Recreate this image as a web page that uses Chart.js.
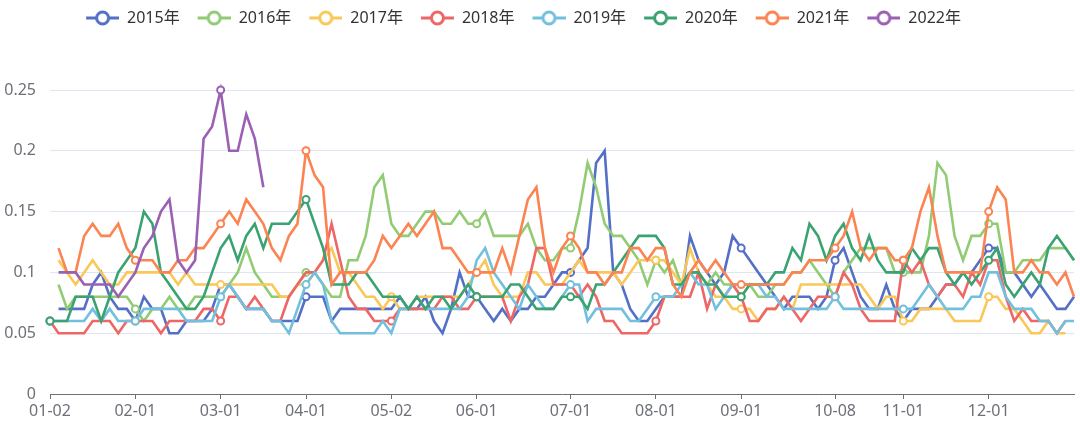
<!DOCTYPE html>
<html>
<head>
<meta charset="utf-8">
<script src="https://cdn.jsdelivr.net/npm/chart.js@4.4.1/dist/chart.umd.min.js"></script>
<style>
  html, body { margin: 0; padding: 0; background: #fff; }
  #wrap { width: 1080px; height: 434px; position: relative; }
</style>
</head>
<body>
<div id="wrap"><canvas id="chart"></canvas></div>
<script>
// x categories: roughly every second trading day
const dates = [
  '01-02','01-06','01-08','01-10','01-14','01-16','01-20','01-22','01-24','01-28',
  '02-01','02-03','02-07','02-09','02-13','02-15','02-19','02-21','02-23','02-27',
  '03-01','03-05','03-07','03-11','03-13','03-15','03-19','03-21','03-25','03-27',
  '04-01','04-03','04-08','04-10','04-14','04-16','04-18','04-22','04-24','04-28',
  '05-02','05-06','05-08','05-12','05-14','05-16','05-20','05-22','05-26','05-28',
  '06-01','06-03','06-05','06-09','06-11','06-15','06-17','06-19','06-23','06-25','06-29',
  '07-01','07-03','07-07','07-09','07-13','07-15','07-17','07-21','07-23','07-27',
  '08-01','08-03','08-07','08-09','08-13','08-15','08-19','08-21','08-25','08-27',
  '09-01','09-03','09-05','09-09','09-11','09-15','09-17','09-19','09-23','09-25','09-29',
  '10-08','10-10','10-14','10-16','10-18','10-22','10-24','10-28',
  '11-01','11-05','11-07','11-11','11-13','11-15','11-19','11-21','11-25','11-27',
  '12-01','12-03','12-05','12-09','12-11','12-15','12-17','12-19','12-23','12-25','12-29'
];
const tickLabels = ['01-02','02-01','03-01','04-01','05-02','06-01','07-01','08-01','09-01','10-08','11-01','12-01'];
const yTicks = [0, 0.05, 0.1, 0.15, 0.2, 0.25];

const years = ['2015年','2016年','2017年','2018年','2019年','2020年','2021年','2022年'];
const colors = ['#5470c6','#91cc75','#fac858','#ee6666','#73c0de','#3ba272','#fc8452','#9a60b4'];

const v2015 = [
  null,0.07,0.07,0.07,0.07,0.09,0.10,0.08,0.07,0.07,0.06,0.08,0.07,0.07,0.05,
  0.05,0.06,0.06,0.06,0.07,0.09,0.09,0.08,0.07,0.07,0.07,0.06,0.06,0.06,0.06,
  0.08,0.08,0.08,0.06,0.07,0.07,0.07,0.07,0.07,0.07,0.07,0.08,0.07,0.07,0.08,
  0.06,0.05,0.07,0.10,0.08,0.08,0.07,0.06,0.07,0.06,0.07,0.07,0.08,0.08,0.09,
  0.10,0.10,0.11,0.12,0.19,0.20,0.10,0.09,0.07,0.06,0.06,0.07,0.08,0.08,0.08,
  0.13,0.11,0.10,0.09,0.10,0.13,0.12,0.11,0.10,0.09,0.08,0.07,0.08,0.08,0.08,
  0.07,0.08,0.11,0.12,0.10,0.08,0.07,0.07,0.09,0.07,0.06,0.07,0.07,0.07,0.08,
  0.09,0.09,0.10,0.10,0.11,0.12,0.12,0.10,0.10,0.09,0.08,0.09,0.08,0.07,0.07,0.08
];
const v2016 = [
  null,0.09,0.07,0.08,0.08,0.08,0.08,0.08,0.08,0.08,0.07,0.06,0.07,0.07,0.08,
  0.07,0.07,0.08,0.08,0.08,0.08,0.09,0.10,0.12,0.10,0.09,0.08,0.08,0.08,0.09,
  0.10,0.10,0.09,0.08,0.08,0.11,0.11,0.13,0.17,0.18,0.14,0.13,0.13,0.14,0.15,
  0.15,0.14,0.14,0.15,0.14,0.14,0.15,0.13,0.13,0.13,0.13,0.14,0.12,0.11,0.11,
  0.12,0.12,0.15,0.19,0.17,0.14,0.13,0.13,0.12,0.11,0.09,0.11,0.10,0.11,0.09,
  0.10,0.10,0.09,0.10,0.09,0.09,0.08,0.09,0.08,0.08,0.09,0.09,0.10,0.10,0.11,
  0.10,0.09,0.08,0.10,0.11,0.12,0.12,0.12,0.12,0.10,0.10,0.10,0.10,0.13,0.19,
  0.18,0.13,0.11,0.13,0.13,0.14,0.14,0.10,0.10,0.11,0.11,0.11,0.12,0.12,0.12,0.11
];
const v2017 = [
  null,0.11,0.10,0.09,0.10,0.11,0.10,0.09,0.09,0.10,0.10,0.10,0.10,0.10,0.10,
  0.09,0.10,0.09,0.09,0.09,0.09,0.09,0.09,0.09,0.09,0.09,0.09,0.08,0.08,0.09,
  0.09,0.10,0.11,0.12,0.10,0.10,0.09,0.08,0.08,0.07,0.08,0.07,0.07,0.08,0.08,
  0.08,0.08,0.08,0.08,0.09,0.10,0.11,0.09,0.08,0.08,0.08,0.10,0.10,0.09,0.09,
  0.09,0.10,0.11,0.10,0.10,0.10,0.10,0.09,0.10,0.11,0.11,0.11,0.11,0.10,0.09,
  0.12,0.10,0.09,0.08,0.08,0.07,0.07,0.07,0.06,0.07,0.07,0.08,0.07,0.09,0.09,
  0.09,0.09,0.09,0.09,0.09,0.09,0.08,0.07,0.08,0.08,0.06,0.06,0.07,0.07,0.07,
  0.07,0.06,0.06,0.06,0.06,0.08,0.08,0.07,0.07,0.06,0.05,0.05,0.06,0.05,0.05,null
];
const v2018 = [
  0.06,0.05,0.05,0.05,0.05,0.06,0.06,0.06,0.05,0.06,0.06,0.06,0.06,0.05,0.06,
  0.06,0.06,0.06,0.07,0.07,0.06,0.08,0.08,0.07,0.08,0.07,0.06,0.06,0.08,0.09,
  0.10,0.10,0.11,0.14,0.11,0.08,0.07,0.07,0.06,0.06,0.06,0.07,0.07,0.07,0.07,
  0.07,0.08,0.08,0.07,0.07,0.08,0.08,0.08,0.08,0.06,0.08,0.09,0.12,0.12,0.09,
  0.09,0.09,0.08,0.09,0.08,0.06,0.06,0.05,0.05,0.05,0.05,0.06,0.08,0.08,0.08,
  0.08,0.10,0.07,0.09,0.08,0.09,0.08,0.06,0.06,0.07,0.07,0.08,0.07,0.06,0.07,
  0.08,0.08,0.08,0.10,0.09,0.07,0.06,0.06,0.06,0.06,0.11,0.10,0.11,0.09,0.08,
  0.09,0.09,0.08,0.10,0.09,0.11,0.11,0.08,0.06,0.07,0.06,0.06,0.06,0.05,0.06,null
];
const v2019 = [
  0.06,0.06,0.06,0.06,0.06,0.07,0.06,0.07,0.06,0.06,0.06,0.07,0.07,0.07,0.07,
  0.07,0.06,0.06,0.06,0.06,0.08,0.09,0.08,0.07,0.07,0.07,0.06,0.06,0.05,0.07,
  0.09,0.10,0.09,0.06,0.05,0.05,0.05,0.05,0.05,0.06,0.05,0.07,0.07,0.08,0.07,
  0.07,0.07,0.07,0.07,0.08,0.11,0.12,0.10,0.09,0.08,0.07,0.09,0.08,0.07,0.07,
  0.08,0.09,0.09,0.06,0.07,0.07,0.07,0.07,0.06,0.06,0.07,0.08,0.08,0.08,0.09,
  0.10,0.09,0.09,0.07,0.08,0.09,0.09,0.09,0.09,0.08,0.08,0.07,0.07,0.07,0.07,
  0.07,0.07,0.08,0.07,0.07,0.07,0.07,0.07,0.07,0.07,0.07,0.07,0.08,0.09,0.08,
  0.07,0.07,0.07,0.08,0.08,0.10,0.10,0.08,0.07,0.07,0.07,0.06,0.06,0.05,0.06,0.06
];
const v2020 = [
  0.06,0.06,0.06,0.08,0.08,0.08,0.06,0.08,0.10,0.11,0.12,0.15,0.14,0.10,0.09,
  0.08,0.07,0.07,0.08,0.10,0.12,0.13,0.11,0.13,0.14,0.12,0.14,0.14,0.14,0.15,
  0.16,0.14,0.12,0.09,0.09,0.09,0.10,0.10,0.09,0.08,0.08,0.08,0.07,0.08,0.07,
  0.08,0.08,0.07,0.08,0.09,0.08,0.08,0.08,0.08,0.09,0.09,0.08,0.07,0.07,0.07,
  0.08,0.08,0.08,0.07,0.09,0.09,0.10,0.11,0.12,0.13,0.13,0.13,0.12,0.09,0.09,
  0.10,0.10,0.09,0.09,0.08,0.08,0.08,0.09,0.09,0.09,0.10,0.10,0.12,0.11,0.14,
  0.13,0.11,0.13,0.14,0.12,0.11,0.13,0.11,0.10,0.10,0.10,0.12,0.11,0.12,0.12,
  0.10,0.09,0.10,0.09,0.10,0.11,0.12,0.09,0.08,0.09,0.10,0.09,0.12,0.13,0.12,0.11
];
const v2021 = [
  null,0.12,0.10,0.10,0.13,0.14,0.13,0.13,0.14,0.12,0.11,0.11,0.11,0.10,0.10,
  0.11,0.11,0.12,0.12,0.13,0.14,0.15,0.14,0.16,0.15,0.14,0.12,0.11,0.13,0.14,
  0.20,0.18,0.17,0.09,0.10,0.10,0.10,0.10,0.11,0.13,0.12,0.13,0.14,0.13,0.14,
  0.15,0.12,0.12,0.11,0.10,0.10,0.10,0.10,0.12,0.10,0.13,0.16,0.17,0.12,0.10,
  0.12,0.13,0.12,0.10,0.10,0.09,0.10,0.10,0.12,0.12,0.11,0.12,0.12,0.09,0.08,
  0.10,0.11,0.10,0.11,0.10,0.09,0.09,0.09,0.09,0.09,0.09,0.09,0.10,0.10,0.11,
  0.11,0.11,0.12,0.13,0.15,0.12,0.11,0.12,0.12,0.11,0.11,0.12,0.15,0.17,0.13,
  0.10,0.10,0.10,0.10,0.10,0.15,0.17,0.16,0.10,0.10,0.11,0.10,0.10,0.09,0.10,0.08
];
const v2022 = [
  null,0.10,0.10,0.10,0.09,0.09,0.09,0.09,0.08,0.09,0.10,0.12,0.13,0.15,0.16,
  0.11,0.10,0.11,0.21,0.22,0.25,0.20,0.20,0.23,0.21,0.17
];

// labelled dates that were trading days in each year (those get a marker)
const marks2015 = ['04-01','06-01','07-01','09-01','10-08','12-01'];
const marks2016 = ['02-01','03-01','04-01','06-01','07-01','08-01','09-01','11-01','12-01'];
const marks2017 = ['03-01','05-02','06-01','08-01','09-01','11-01','12-01'];
const marks2018 = ['01-02','02-01','03-01','05-02','06-01','08-01','10-08','11-01'];
const marks2019 = ['01-02','02-01','03-01','04-01','07-01','08-01','10-08','11-01'];
const marks2020 = ['01-02','04-01','06-01','07-01','09-01','12-01'];
const marks2021 = ['02-01','03-01','04-01','06-01','07-01','09-01','10-08','11-01','12-01'];
const marks2022 = ['03-01'];

const series = [v2015, v2016, v2017, v2018, v2019, v2020, v2021, v2022];
const marks = [marks2015, marks2016, marks2017, marks2018, marks2019, marks2020, marks2021, marks2022];
const tickIdx = tickLabels.map(l => dates.indexOf(l));

Chart.defaults.font.family = "'Noto Sans', 'Noto Sans CJK SC', sans-serif";

// legend icon: short line with a hollow circle on it
function makeIcon(color) {
  const c = document.createElement('canvas');
  c.width = 41;
  c.height = 18;
  const g = c.getContext('2d');
  g.strokeStyle = color;
  g.lineWidth = 3;
  g.beginPath();
  g.moveTo(8, 9);
  g.lineTo(41, 9);
  g.stroke();
  g.beginPath();
  g.arc(24.5, 9, 6, 0, Math.PI * 2);
  g.fillStyle = '#fff';
  g.fill();
  g.stroke();
  return c;
}
const icons = colors.map(makeIcon);

// push the plot down below the legend, and nudge the legend a bit left
const legendGap = {
  id: 'legendGap',
  beforeInit(chart) {
    const legend = chart.legend;
    const fit = legend.fit;
    legend.fit = function () {
      fit.call(this);
      this.height += 54;
    };
    const draw = legend.draw;
    legend.draw = function () {
      this.ctx.save();
      this.ctx.translate(-18, 0);
      draw.call(this);
      this.ctx.restore();
    };
  }
};

new Chart(document.getElementById('chart'), {
  type: 'line',
  data: {
    labels: dates,
    datasets: years.map((y, i) => ({
      label: y,
      data: series[i],
      borderColor: colors[i],
      backgroundColor: colors[i],
      borderWidth: 2.6,
      tension: 0,
      clip: 8,
      pointRadius: ctx => marks[i].includes(dates[ctx.dataIndex]) ? 3.5 : 0,
      pointHoverRadius: 4,
      pointBackgroundColor: '#fff',
      pointBorderColor: colors[i],
      pointBorderWidth: 2,
      order: years.length - 1 - i
    }))
  },
  options: {
    responsive: true,
    maintainAspectRatio: false,
    animation: false,
    layout: { padding: { left: 0, right: 5, top: 0, bottom: 0 } },
    plugins: {
      tooltip: { enabled: false },
      legend: {
        position: 'top',
        align: 'center',
        labels: {
          usePointStyle: true,
          pointStyleWidth: 41,
          padding: 10,
          color: '#333',
          font: { size: 16 },
          generateLabels: chart => chart.data.datasets.map((ds, i) => ({
            text: ds.label,
            pointStyle: icons[i],
            fillStyle: ds.borderColor,
            strokeStyle: ds.borderColor,
            fontColor: '#333',
            lineWidth: 0,
            hidden: false,
            datasetIndex: i
          }))
        }
      }
    },
    scales: {
      x: {
        type: 'category',
        offset: false,
        grid: { drawOnChartArea: false, color: '#6e7079', tickLength: 5 },
        border: { color: '#6e7079' },
        ticks: { autoSkip: false, maxRotation: 0, color: '#6e7079', font: { size: 16 }, padding: 3 },
        afterBuildTicks: axis => { axis.ticks = tickIdx.map(i => ({ value: i })); },
        afterFit: axis => { axis.height = 40; }
      },
      y: {
        min: yTicks[0],
        max: yTicks[yTicks.length - 1],
        grid: { color: '#e0e6f1', drawTicks: false },
        border: { display: false },
        ticks: {
          color: '#6e7079',
          font: { size: 16 },
          padding: 14,
          callback: v => +v.toFixed(2)
        },
        afterBuildTicks: axis => { axis.ticks = yTicks.map(v => ({ value: v })); },
        afterFit: axis => { axis.width = 50; }
      }
    }
  },
  plugins: [legendGap]
});
</script>
</body>
</html>
